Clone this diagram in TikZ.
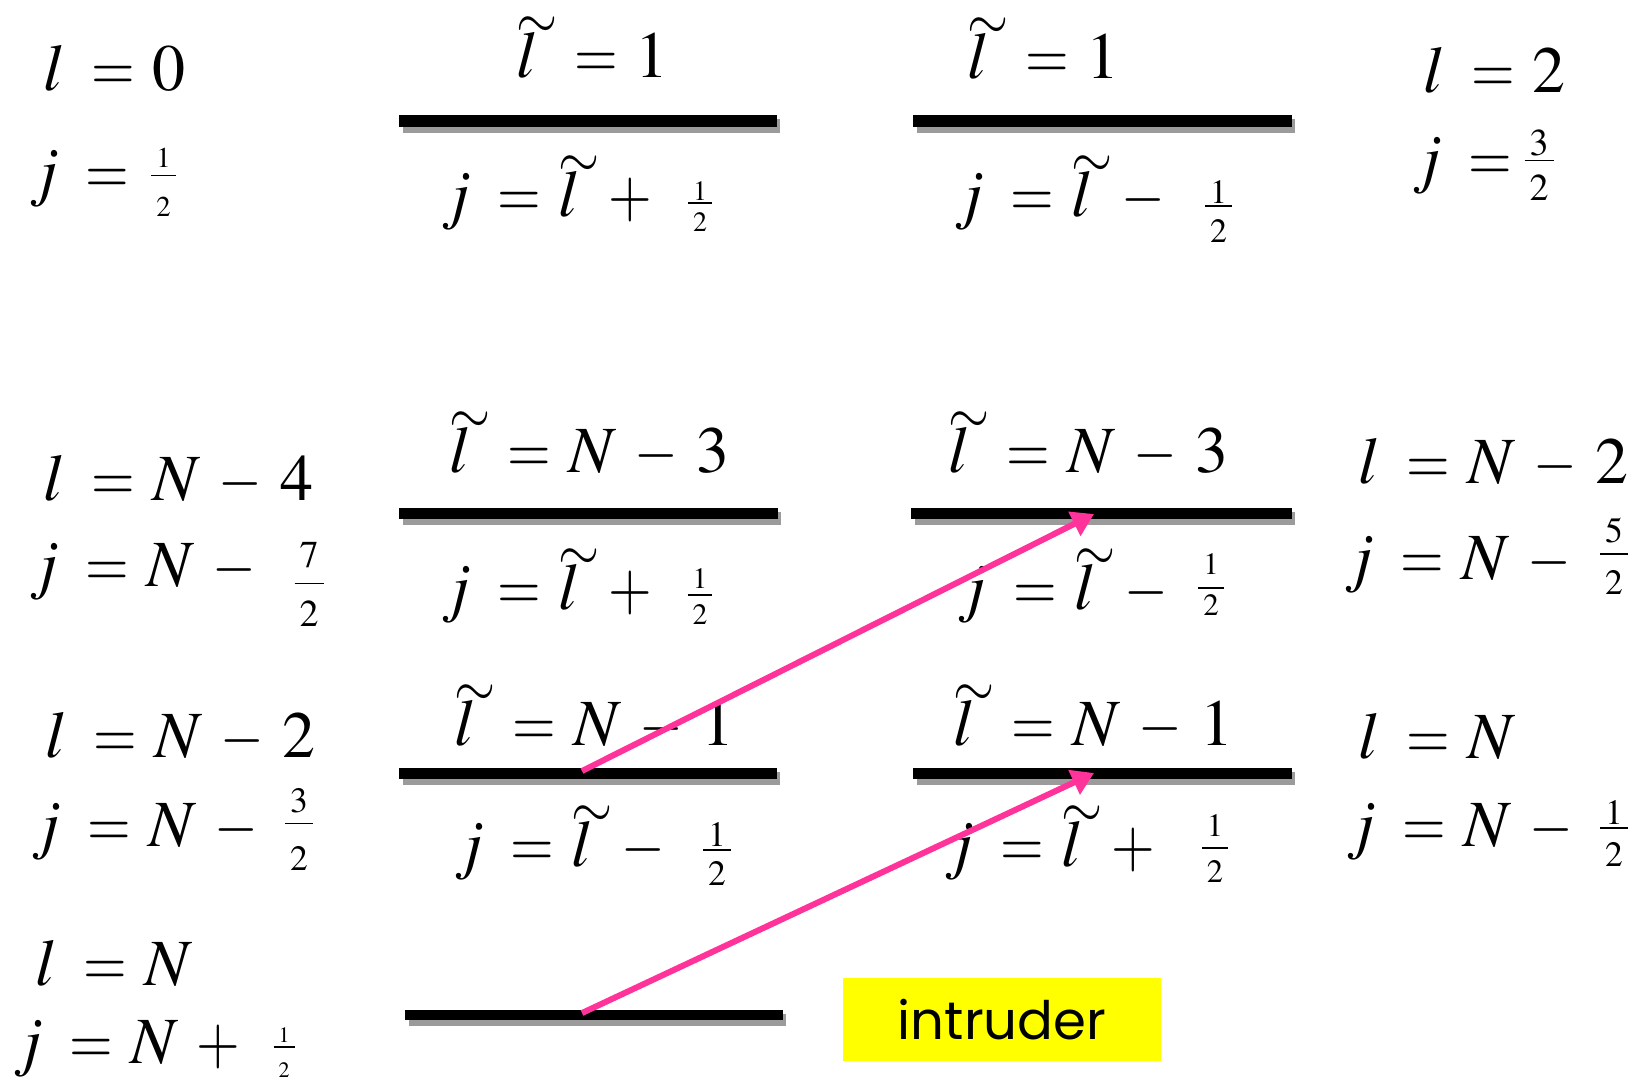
\documentclass[tikz,border=0pt]{standalone}
\usepackage{fontspec}
\usepackage{mathptmx}
\usepackage{graphicx}
\newfontfamily\introfont{Poppins}
\usetikzlibrary{arrows.meta}
\definecolor{arrowpink}{RGB}{255,51,153}
\definecolor{shadowgray}{RGB}{155,155,155}
\definecolor{introyellow}{RGB}{255,255,0}
\newcommand\tl{{\makebox[0pt][l]{\raisebox{19.5pt}{\scalebox{0.8}[0.9]{$\sim$}}}l\hspace{5pt}}}
\newcommand\eq{\mathord{\scalebox{0.85}[1]{$=$}}}
\newcommand\mi{\mathord{\scalebox{0.85}[1]{$-$}}}
\newcommand\pl{\mathord{\scalebox{0.85}[1]{$+$}}}
\newcommand\ga{\hspace{13pt}}
\newcommand\gb{\hspace{9pt}}
\newcommand\fr[4]{\vbox{\halign{\hfil\kern2.5pt$##$\kern2.5pt\hfil\cr#1\cr\noalign{\kern#3\hrule height0.75pt\kern#4}#2\cr}}}
\newcommand\levbar[4]{\fill[lshadow] (#1+4,#2+4) rectangle (#3+3,#4+6); \fill[level] (#1,#2) rectangle (#3,#4);}
\begin{document}
\begin{tikzpicture}[x=0.5pt,y=-0.5pt,
  lab/.style={anchor=base west,inner sep=0pt,font=\fontsize{33}{38}\selectfont},
  fracn/.style={anchor=north,inner sep=0pt},
  level/.style={fill=black},
  lshadow/.style={fill=shadowgray},
  trans/.style={draw=arrowpink,line width=3pt,-{Triangle[length=11pt,width=13pt]}}]
\useasboundingbox (0,0) rectangle (1637,1078);

% levels
\levbar{399}{115}{777}{127}
\levbar{913}{115}{1292}{127}
\levbar{399}{508}{778}{519}
\levbar{911}{508}{1292}{519}
\levbar{399}{768}{777}{779}
\levbar{913}{768}{1292}{779}
\levbar{405}{1010}{783}{1020}

% left column
\node[lab] (A1) at (43,90) {$l\ga\eq\gb 0$};
\node[lab] (A2) at (29,193) {$j\ga\eq$};
\node[fracn,font=\fontsize{14.4}{16}\selectfont] (A2f) at (163.5,148) {\fr{1}{2}{3.6pt}{10.6pt}};
\node[lab] (E1) at (43,500) {$l\ga\eq\gb N\gb\mi\gb 4$};
\node[lab] (E2) at (29,586) {$j\ga\eq\gb N\gb\mi$};
\node[fracn,font=\fontsize{19}{21}\selectfont] (E2f) at (309,542) {\fr{7}{2}{7.4pt}{8.1pt}};
\node[lab] (I1) at (45,757) {$l\ga\eq\gb N\gb\mi\gb 2$};
\node[lab] (I2) at (31,846) {$j\ga\eq\gb N\gb\mi$};
\node[fracn,font=\fontsize{17.8}{20}\selectfont] (I2f) at (299,788) {\fr{3}{2}{5.1pt}{11.1pt}};
\node[lab] (M1) at (35,985) {$l\ga\eq\gb N$};
\node[lab] (M2) at (13,1063) {$j\ga\eq\gb N\gb\pl$};
\node[fracn,font=\fontsize{11}{13}\selectfont] (M2f) at (284,1027) {\fr{1}{2}{2.1pt}{7.6pt}};

% centre-left column
\node[lab] (B1) at (516,77) {$\tl\ga\eq\gb 1$};
\node[lab] (B2) at (441,216) {$j\ga\eq\gb\tl\gb\pl$};
\node[fracn,font=\fontsize{14}{16}\selectfont] (B2f) at (700,181) {\fr{1}{2}{1.1pt}{4.6pt}};
\node[lab] (F1) at (449,472) {$\tl\ga\eq\gb N\gb\mi\gb 3$};
\node[lab] (F2) at (441,609) {$j\ga\eq\gb\tl\gb\pl$};
\node[fracn,font=\fontsize{14.8}{16}\selectfont] (F2f) at (700,568) {\fr{1}{2}{3.1pt}{4.6pt}};
\node[lab] (J1) at (454,745) {$\tl\ga\eq\gb N\gb\mi\gb 1$};
\node[lab] (J2) at (454,866) {$j\ga\eq\gb\tl\gb\mi$};
\node[fracn,font=\fontsize{17.8}{20}\selectfont] (J2f) at (717,822) {\fr{1}{2}{1.6pt}{5.6pt}};

% centre-right column
\node[lab] (C1) at (967,78) {$\tl\ga\eq\gb 1$};
\node[lab] (C2) at (954,216) {$j\ga\eq\gb\tl\gb\mi$};
\node[fracn,font=\fontsize{17}{19}\selectfont] (C2f) at (1218.5,180) {\fr{1}{2}{1.1pt}{6.6pt}};
\node[lab] (G1) at (948,472) {$\tl\ga\eq\gb N\gb\mi\gb 3$};
\node[lab] (G2) at (957,609) {$j\ga\eq\gb\tl\gb\mi$};
\node[fracn,font=\fontsize{15.5}{17}\selectfont] (G2f) at (1211,553) {\fr{1}{2}{6.6pt}{3.1pt}};
\node[lab] (K1) at (953,745) {$\tl\ga\eq\gb N\gb\mi\gb 1$};
\node[lab] (K2) at (944,866) {$j\ga\eq\gb\tl\gb\pl$};
\node[fracn,font=\fontsize{16.3}{18}\selectfont] (K2f) at (1215,814) {\fr{1}{2}{5.6pt}{6.1pt}};

% right column
\node[lab] (D1) at (1423,92) {$l\ga\eq\gb 2$};
\node[lab] (D2) at (1412,180) {$j\ga\eq$};
\node[fracn,font=\fontsize{19}{21}\selectfont] (D2f) at (1539,130) {\fr{3}{2}{1.6pt}{7.1pt}};
\node[lab] (H1) at (1358,483) {$l\ga\eq\gb N\gb\mi\gb 2$};
\node[lab] (H2) at (1344,579) {$j\ga\eq\gb N\gb\mi$};
\node[fracn,font=\fontsize{17.8}{20}\selectfont] (H2f) at (1614,518) {\fr{5}{2}{5.1pt}{8.1pt}};
\node[lab] (L1) at (1358,758) {$l\ga\eq\gb N$};
\node[lab] (L2) at (1346,846) {$j\ga\eq\gb N\gb\mi$};
\node[fracn,font=\fontsize{17.8}{20}\selectfont] (L2f) at (1614,800) {\fr{1}{2}{1.6pt}{7.1pt}};

% intruder label
\node[fill=introyellow,minimum width=159pt,minimum height=41.5pt,inner sep=0pt,
      font=\introfont\fontsize{26.5}{30}\selectfont] (intr) at (1002,1019.5) {intruder};

% transitions
\coordinate (s1) at (582,771);
\coordinate (e1) at (1094,514);
\coordinate (s2) at (582,1013);
\coordinate (e2) at (1094,773);
\draw[trans] (s1) -- (e1);
\draw[trans] (s2) -- (e2);
\end{tikzpicture}
\end{document}
